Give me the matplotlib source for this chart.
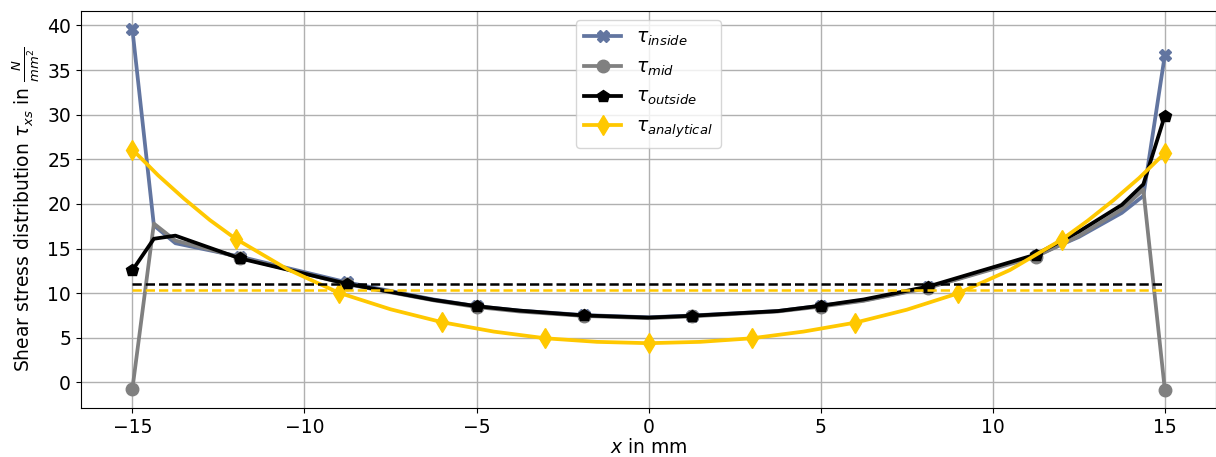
import matplotlib
matplotlib.use("Agg")
import matplotlib.pyplot as plt

# FE nodes across the width (mm)
x_fe = [-15, -14.375, -13.75, -11.875, -8.75, -6.25, -5, -3.75, -1.875, 0,
        1.25, 3.75, 5, 6.25, 8.125, 11.25, 12.5, 13.75, 14.375, 15]
fe_markers = [0, 3, 4, 6, 8, 10, 12, 14, 15, 19]

tau_inside = [39.6, 17.6, 15.6, 14.1, 11.2, 9.3, 8.55, 8.05, 7.55, 7.3,
              7.5, 8.0, 8.6, 9.2, 10.65, 14.2, 16.3, 19.0, 20.9, 36.7]
tau_mid = [-0.75, 17.8, 15.9, 14.0, 11.0, 9.2, 8.45, 7.95, 7.45, 7.2,
           7.4, 7.95, 8.5, 9.15, 10.6, 14.1, 16.4, 19.4, 21.6, -0.85]
tau_outside = [12.56, 16.1, 16.45, 13.9, 11.05, 9.25, 8.55, 8.05, 7.51, 7.27,
               7.47, 8.0, 8.6, 9.3, 10.75, 14.33, 16.9, 19.9, 22.2, 29.9]

x_an = [-15, -14.25, -13.5, -12.75, -12, -10.5, -9, -7.5, -6, -4.5, -3, -1.5, 0,
        1.5, 3, 4.5, 6, 7.5, 9, 10.5, 12, 12.75, 13.5, 14.25, 15]
tau_an = [26.1, 23.2, 20.6, 18.2, 16.1, 12.7, 10.05, 8.2, 6.75, 5.7, 4.95, 4.55, 4.4,
          4.55, 4.95, 5.7, 6.7, 8.15, 10.0, 12.6, 16.0, 18.1, 20.4, 22.9, 25.7]
an_markers = [0, 4, 6, 8, 10, 12, 14, 16, 18, 20, 24]

mean_x = [-15, 15]
mean_fe = [11.08, 11.08]
mean_an = [10.35, 10.35]

plt.rcParams['font.size'] = 13.5

fig = plt.figure(figsize=(12.16, 4.57), dpi=100)
ax = fig.add_axes([0.0664, 0.107, 0.934, 0.869])

ax.plot(x_fe, tau_inside, color='#6275a0', lw=2.7, marker='X', ms=9,
        markevery=fe_markers, label=r'$\tau_{inside}$')
ax.plot(x_fe, tau_mid, color='#808080', lw=2.7, marker='o', ms=9,
        markevery=fe_markers, label=r'$\tau_{mid}$')
ax.plot(x_fe, tau_outside, color='black', lw=2.7, marker='p', ms=9,
        markevery=fe_markers, label=r'$\tau_{outside}$')
ax.plot(x_an, tau_an, color='#ffc800', lw=2.7, marker='d', ms=10,
        markevery=an_markers, label=r'$\tau_{analytical}$')

ax.plot(mean_x, mean_fe, color='black', lw=1.8, ls='--')
ax.plot(mean_x, mean_an, color='#ffc800', lw=1.8, ls='--')

ax.grid(True, color='#b0b0b0', lw=1.0)
ax.set_xlabel(r'$x$ in mm', labelpad=1)
ax.set_ylabel(r'Shear stress distribution $\tau_{xs}$ in $\frac{N}{mm^2}$')
ax.legend(loc='upper center')

fig.savefig('out.png', dpi=100)
